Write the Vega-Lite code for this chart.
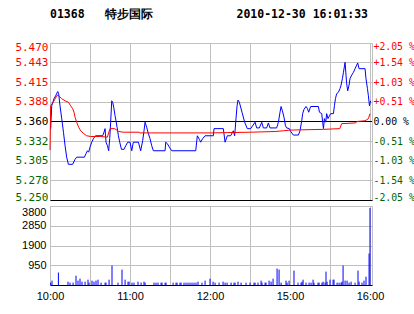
{
  "$schema": "https://vega.github.io/schema/vega-lite/v6.json",
  "background": "white",
  "padding": {"left": 14, "top": 9, "right": 0, "bottom": 0},
  "bounds": "flush",
  "title": {
    "text": "01368\u00a0\u00a0\u00a0特步国际\u00a0\u00a0\u00a0\u00a0\u00a0\u00a0\u00a0\u00a0\u00a0\u00a0\u00a0\u00a02010-12-30\u00a016:01:33",
    "anchor": "start",
    "frame": "group",
    "font": "DejaVu Sans Mono",
    "fontSize": 11.5,
    "fontWeight": "bold",
    "color": "#000000",
    "offset": 20
  },
  "config": {
    "view": {"stroke": "#c0c0c0", "strokeWidth": 1},
    "axis": {"gridColor": "#c0c0c0", "gridOpacity": 1, "gridWidth": 1, "ticks": false, "title": null}
  },
  "spacing": 6,
  "datasets": {
    "price": [
      {"t": 0.5, "p": 5.350}, {"t": 1.3, "p": 5.382}, {"t": 3.0, "p": 5.392}, {"t": 4.5, "p": 5.397},
      {"t": 5.8, "p": 5.402}, {"t": 6.5, "p": 5.399}, {"t": 7.5, "p": 5.382}, {"t": 8.8, "p": 5.364},
      {"t": 10.1, "p": 5.345}, {"t": 11.3, "p": 5.326}, {"t": 12.5, "p": 5.310}, {"t": 13.8, "p": 5.300},
      {"t": 17.0, "p": 5.300}, {"t": 18.8, "p": 5.307}, {"t": 20.0, "p": 5.310}, {"t": 25.8, "p": 5.310},
      {"t": 27.0, "p": 5.315}, {"t": 28.1, "p": 5.319}, {"t": 29.0, "p": 5.317}, {"t": 30.0, "p": 5.324},
      {"t": 31.3, "p": 5.331}, {"t": 32.6, "p": 5.336}, {"t": 34.1, "p": 5.340}, {"t": 39.5, "p": 5.340},
      {"t": 40.5, "p": 5.345}, {"t": 41.3, "p": 5.350}, {"t": 42.0, "p": 5.331}, {"t": 43.1, "p": 5.326},
      {"t": 44.0, "p": 5.319}, {"t": 44.8, "p": 5.336}, {"t": 45.5, "p": 5.359}, {"t": 46.3, "p": 5.389},
      {"t": 47.0, "p": 5.387}, {"t": 47.8, "p": 5.380}, {"t": 48.8, "p": 5.368}, {"t": 49.5, "p": 5.361},
      {"t": 50.3, "p": 5.352}, {"t": 51.3, "p": 5.340}, {"t": 52.3, "p": 5.331}, {"t": 53.6, "p": 5.321},
      {"t": 55.5, "p": 5.321}, {"t": 56.8, "p": 5.326}, {"t": 58.3, "p": 5.331}, {"t": 60.0, "p": 5.331},
      {"t": 61.3, "p": 5.319}, {"t": 62.5, "p": 5.331}, {"t": 66.3, "p": 5.331}, {"t": 68.0, "p": 5.319},
      {"t": 69.5, "p": 5.333}, {"t": 70.5, "p": 5.347}, {"t": 71.3, "p": 5.359}, {"t": 72.5, "p": 5.352},
      {"t": 73.8, "p": 5.343}, {"t": 75.0, "p": 5.336}, {"t": 76.3, "p": 5.326}, {"t": 77.5, "p": 5.319},
      {"t": 86.3, "p": 5.319}, {"t": 86.8, "p": 5.331}, {"t": 88.0, "p": 5.329}, {"t": 89.5, "p": 5.324},
      {"t": 91.3, "p": 5.319}, {"t": 109.3, "p": 5.319}, {"t": 110.5, "p": 5.340}, {"t": 112.0, "p": 5.335},
      {"t": 113.0, "p": 5.331}, {"t": 114.5, "p": 5.336}, {"t": 116.3, "p": 5.340}, {"t": 122.5, "p": 5.340},
      {"t": 123.0, "p": 5.350}, {"t": 130.0, "p": 5.350}, {"t": 131.3, "p": 5.331}, {"t": 133.0, "p": 5.340},
      {"t": 135.5, "p": 5.340}, {"t": 137.5, "p": 5.347}, {"t": 138.5, "p": 5.340}, {"t": 139.5, "p": 5.364},
      {"t": 140.3, "p": 5.382}, {"t": 141.0, "p": 5.390}, {"t": 142.0, "p": 5.387}, {"t": 144.0, "p": 5.373},
      {"t": 146.0, "p": 5.359}, {"t": 148.0, "p": 5.350}, {"t": 150.5, "p": 5.350}, {"t": 153.8, "p": 5.359},
      {"t": 155.0, "p": 5.351}, {"t": 157.0, "p": 5.351}, {"t": 158.8, "p": 5.359}, {"t": 160.0, "p": 5.351},
      {"t": 162.5, "p": 5.351}, {"t": 163.8, "p": 5.358}, {"t": 165.0, "p": 5.351}, {"t": 170.0, "p": 5.351},
      {"t": 171.3, "p": 5.359}, {"t": 172.5, "p": 5.373}, {"t": 173.3, "p": 5.381}, {"t": 174.3, "p": 5.375},
      {"t": 175.5, "p": 5.366}, {"t": 176.6, "p": 5.354}, {"t": 177.5, "p": 5.351}, {"t": 179.5, "p": 5.350},
      {"t": 180.5, "p": 5.346}, {"t": 182.5, "p": 5.341}, {"t": 186.3, "p": 5.341}, {"t": 187.5, "p": 5.347},
      {"t": 188.8, "p": 5.361}, {"t": 189.5, "p": 5.371}, {"t": 190.5, "p": 5.377}, {"t": 192.0, "p": 5.381},
      {"t": 193.1, "p": 5.378}, {"t": 194.0, "p": 5.373}, {"t": 195.5, "p": 5.381}, {"t": 201.3, "p": 5.381},
      {"t": 202.1, "p": 5.373}, {"t": 203.8, "p": 5.371}, {"t": 204.5, "p": 5.359}, {"t": 205.1, "p": 5.350},
      {"t": 205.8, "p": 5.364}, {"t": 206.8, "p": 5.359}, {"t": 207.5, "p": 5.371}, {"t": 208.5, "p": 5.364},
      {"t": 209.6, "p": 5.368}, {"t": 210.5, "p": 5.371}, {"t": 212.6, "p": 5.371}, {"t": 213.3, "p": 5.382},
      {"t": 214.1, "p": 5.392}, {"t": 215.0, "p": 5.399}, {"t": 216.3, "p": 5.401}, {"t": 217.5, "p": 5.406},
      {"t": 218.3, "p": 5.411}, {"t": 219.3, "p": 5.420}, {"t": 220.1, "p": 5.429}, {"t": 221.3, "p": 5.443},
      {"t": 222.0, "p": 5.425}, {"t": 222.5, "p": 5.413}, {"t": 223.3, "p": 5.403}, {"t": 224.3, "p": 5.411},
      {"t": 225.0, "p": 5.420}, {"t": 226.3, "p": 5.425}, {"t": 227.6, "p": 5.429}, {"t": 228.8, "p": 5.434},
      {"t": 230.0, "p": 5.439}, {"t": 230.8, "p": 5.442}, {"t": 231.8, "p": 5.434}, {"t": 236.3, "p": 5.434},
      {"t": 237.0, "p": 5.420}, {"t": 238.1, "p": 5.406}, {"t": 238.8, "p": 5.396}, {"t": 239.6, "p": 5.382},
      {"t": 240.5, "p": 5.389}
    ],
    "avg": [
      {"t": 0.0, "a": 5.320}, {"t": 0.5, "a": 5.382}, {"t": 3.0, "a": 5.389}, {"t": 5.0, "a": 5.396},
      {"t": 6.0, "a": 5.397}, {"t": 8.8, "a": 5.392}, {"t": 11.3, "a": 5.389}, {"t": 13.8, "a": 5.387},
      {"t": 15.5, "a": 5.382}, {"t": 17.0, "a": 5.378}, {"t": 18.0, "a": 5.373}, {"t": 18.8, "a": 5.366},
      {"t": 20.0, "a": 5.359}, {"t": 21.5, "a": 5.352}, {"t": 23.0, "a": 5.347}, {"t": 25.3, "a": 5.343},
      {"t": 27.5, "a": 5.340}, {"t": 30.5, "a": 5.339}, {"t": 38.0, "a": 5.339}, {"t": 43.0, "a": 5.338},
      {"t": 45.0, "a": 5.350}, {"t": 48.5, "a": 5.350}, {"t": 51.5, "a": 5.346}, {"t": 55.0, "a": 5.345},
      {"t": 67.0, "a": 5.345}, {"t": 67.3, "a": 5.344}, {"t": 120.5, "a": 5.344}, {"t": 150.5, "a": 5.345},
      {"t": 168.8, "a": 5.346}, {"t": 175.0, "a": 5.347}, {"t": 180.5, "a": 5.348}, {"t": 205.1, "a": 5.349},
      {"t": 217.3, "a": 5.350}, {"t": 218.8, "a": 5.357}, {"t": 229.3, "a": 5.358}, {"t": 230.0, "a": 5.360},
      {"t": 236.3, "a": 5.361}, {"t": 238.8, "a": 5.364}, {"t": 240.0, "a": 5.371}
    ],
    "vol": [
      {"t": 0.5, "v": 113}, {"t": 1.5, "v": 210}, {"t": 6.3, "v": 600}, {"t": 13.5, "v": 160},
      {"t": 15.0, "v": 113}, {"t": 17.3, "v": 113}, {"t": 19.5, "v": 450}, {"t": 21.0, "v": 210},
      {"t": 22.5, "v": 305}, {"t": 24.0, "v": 160}, {"t": 26.3, "v": 160}, {"t": 28.5, "v": 257},
      {"t": 29.3, "v": 113}, {"t": 31.5, "v": 210}, {"t": 33.0, "v": 160}, {"t": 34.5, "v": 210},
      {"t": 36.0, "v": 257}, {"t": 38.3, "v": 113}, {"t": 41.3, "v": 113}, {"t": 42.0, "v": 113},
      {"t": 44.3, "v": 257}, {"t": 46.5, "v": 935}, {"t": 51.0, "v": 113}, {"t": 54.0, "v": 741},
      {"t": 56.3, "v": 257}, {"t": 58.5, "v": 160}, {"t": 59.3, "v": 160}, {"t": 61.5, "v": 113},
      {"t": 63.0, "v": 113}, {"t": 66.0, "v": 160}, {"t": 68.3, "v": 113}, {"t": 70.5, "v": 160},
      {"t": 71.3, "v": 113}, {"t": 78.0, "v": 113}, {"t": 79.5, "v": 113}, {"t": 81.0, "v": 113},
      {"t": 83.3, "v": 113}, {"t": 84.0, "v": 113}, {"t": 86.3, "v": 113}, {"t": 87.0, "v": 113},
      {"t": 92.3, "v": 113}, {"t": 94.5, "v": 113}, {"t": 95.3, "v": 113}, {"t": 97.5, "v": 113},
      {"t": 98.3, "v": 113}, {"t": 100.5, "v": 113}, {"t": 102.0, "v": 113}, {"t": 103.5, "v": 113},
      {"t": 105.0, "v": 113}, {"t": 106.5, "v": 113}, {"t": 108.0, "v": 113}, {"t": 109.5, "v": 113},
      {"t": 111.0, "v": 160}, {"t": 114.0, "v": 113}, {"t": 116.3, "v": 210}, {"t": 120.0, "v": 305},
      {"t": 122.3, "v": 160}, {"t": 123.8, "v": 113}, {"t": 126.8, "v": 113}, {"t": 129.8, "v": 160},
      {"t": 131.3, "v": 113}, {"t": 132.8, "v": 113}, {"t": 135.8, "v": 113}, {"t": 138.0, "v": 113},
      {"t": 138.8, "v": 113}, {"t": 141.0, "v": 160}, {"t": 143.3, "v": 113}, {"t": 147.0, "v": 113},
      {"t": 150.0, "v": 113}, {"t": 153.0, "v": 113}, {"t": 153.8, "v": 113}, {"t": 156.0, "v": 113},
      {"t": 158.3, "v": 210}, {"t": 159.0, "v": 113}, {"t": 161.3, "v": 113}, {"t": 162.0, "v": 113},
      {"t": 164.3, "v": 210}, {"t": 165.8, "v": 160}, {"t": 167.3, "v": 305}, {"t": 170.3, "v": 790},
      {"t": 171.8, "v": 741}, {"t": 173.3, "v": 113}, {"t": 177.0, "v": 210}, {"t": 177.8, "v": 113},
      {"t": 179.3, "v": 210}, {"t": 183.0, "v": 693}, {"t": 186.0, "v": 113}, {"t": 188.3, "v": 113},
      {"t": 189.0, "v": 160}, {"t": 189.8, "v": 257}, {"t": 192.0, "v": 113}, {"t": 194.3, "v": 113},
      {"t": 195.8, "v": 113}, {"t": 197.3, "v": 257}, {"t": 198.0, "v": 113}, {"t": 201.0, "v": 113},
      {"t": 201.8, "v": 113}, {"t": 204.0, "v": 113}, {"t": 204.8, "v": 160}, {"t": 206.3, "v": 113},
      {"t": 207.0, "v": 644}, {"t": 207.8, "v": 160}, {"t": 210.0, "v": 257}, {"t": 212.3, "v": 257},
      {"t": 213.0, "v": 257}, {"t": 215.3, "v": 113}, {"t": 216.8, "v": 113}, {"t": 218.3, "v": 113},
      {"t": 219.0, "v": 160}, {"t": 219.8, "v": 935}, {"t": 221.3, "v": 210}, {"t": 222.8, "v": 210},
      {"t": 224.3, "v": 113}, {"t": 225.8, "v": 160}, {"t": 228.8, "v": 113}, {"t": 231.0, "v": 693},
      {"t": 231.8, "v": 160}, {"t": 234.0, "v": 113}, {"t": 235.5, "v": 210}, {"t": 237.0, "v": 402},
      {"t": 239.3, "v": 1515}, {"t": 240.0, "v": 3707}
    ]
  },
  "vconcat": [
    {
      "width": 322,
      "height": 157,
      "layer": [
        {
          "data": {"values": [{"ref": 5.36}]},
          "mark": {"type": "rule", "color": "#000000", "strokeWidth": 1},
          "encoding": {
            "y": {"field": "ref", "type": "quantitative", "scale": {"domain": [5.25, 5.47], "nice": false, "zero": false}, "axis": null}
          }
        },
        {
          "data": {"name": "price"},
          "mark": {"type": "line", "color": "#0000ff", "strokeWidth": 1},
          "encoding": {
            "x": {
              "field": "t", "type": "quantitative",
              "scale": {"domain": [0, 241.5], "nice": false, "zero": false},
              "axis": {"values": [0, 30, 60, 90, 120, 150, 180, 210, 240], "labels": false, "grid": true, "domain": true, "domainColor": "#000000", "domainWidth": 1}
            },
            "y": {
              "field": "p", "type": "quantitative",
              "scale": {"domain": [5.25, 5.47], "nice": false, "zero": false},
              "axis": {
                "orient": "left",
                "values": [5.25, 5.278, 5.305, 5.332, 5.36, 5.388, 5.415, 5.443, 5.47],
                "format": ".3f",
                "grid": true,
                "domain": false,
                "labelFont": "DejaVu Sans Mono",
                "labelFontSize": 11,
                "labelPadding": 2,
                "labelFlush": true,
                "labelFlushOffset": 2,
                "labelColor": {"expr": "datum.value > 5.361 ? '#ff0000' : (datum.value < 5.359 ? '#006600' : '#000000')"}
              }
            }
          }
        },
        {
          "data": {"name": "avg"},
          "mark": {"type": "line", "color": "#ff0000", "strokeWidth": 1},
          "encoding": {
            "x": {"field": "t", "type": "quantitative", "scale": {"domain": [0, 241.5], "nice": false, "zero": false}},
            "y": {
              "field": "a", "type": "quantitative",
              "scale": {"domain": [5.25, 5.47], "nice": false, "zero": false},
              "axis": {
                "orient": "right",
                "values": [5.25, 5.278, 5.305, 5.332, 5.36, 5.388, 5.415, 5.443, 5.47],
                "labelExpr": "['-2.05 %','-1.54 %','-1.03 %','-0.51 %','\u00a00.00 %','+0.51 %','+1.03 %','+1.54 %','+2.05 %'][round((datum.value - 5.25) / 0.0275)]",
                "grid": false,
                "domain": false,
                "labelFont": "DejaVu Sans Mono",
                "labelFontSize": 9.8,
                "labelPadding": 1,
                "labelAlign": "left",
                "labelFlush": true,
                "labelFlushOffset": 2,
                "labelColor": {"expr": "datum.value > 5.361 ? '#ff0000' : (datum.value < 5.359 ? '#006600' : '#000000')"}
              }
            }
          }
        }
      ],
      "resolve": {"scale": {"y": "independent"}}
    },
    {
      "width": 322,
      "height": 79,
      "data": {"name": "vol"},
      "mark": {"type": "rule", "color": "#0000ff", "strokeWidth": 1},
      "encoding": {
        "x": {
          "field": "t", "type": "quantitative",
          "scale": {"domain": [0, 241.5], "nice": false, "zero": false},
          "axis": {
            "values": [0, 30, 60, 90, 120, 150, 180, 210, 240],
            "labelExpr": "datum.value == 0 ? '10:00' : datum.value == 60 ? '11:00' : datum.value == 120 ? '12:00' : datum.value == 180 ? '15:00' : datum.value == 240 ? '16:00' : ''",
            "grid": true,
            "domain": true,
            "domainColor": "#000000",
            "labelFont": "Liberation Sans",
            "labelFontSize": 11,
            "labelColor": "#000000",
            "labelPadding": 5,
            "labelOverlap": false,
            "labelFlush": false,
            "labelBound": false
          }
        },
        "y": {
          "field": "v", "type": "quantitative",
          "scale": {"domain": [0, 3800], "nice": false},
          "axis": {
            "values": [950, 1900, 2850, 3800],
            "format": "d",
            "grid": true,
            "domain": false,
            "labelFont": "Liberation Sans",
            "labelFontSize": 11,
            "labelColor": "#000000",
            "labelPadding": 4,
            "labelFlush": true,
            "labelFlushOffset": 0
          }
        },
        "y2": {"datum": 0}
      }
    }
  ]
}
